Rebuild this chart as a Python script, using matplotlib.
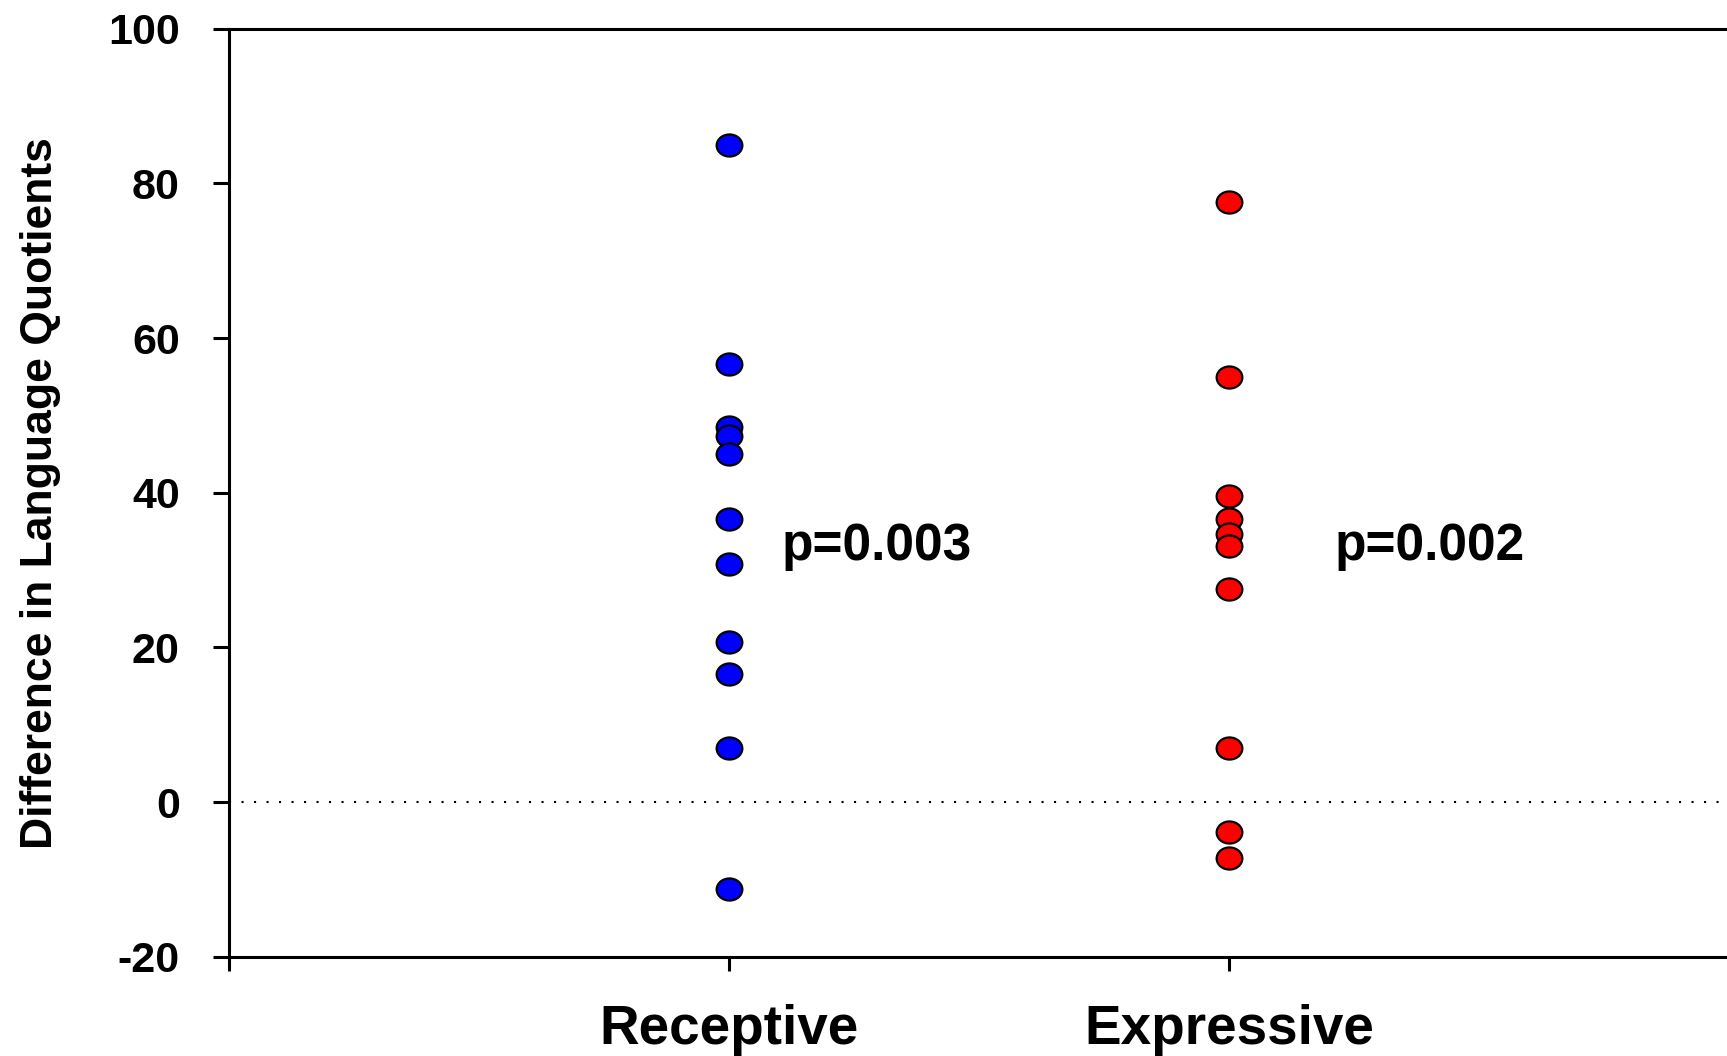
import matplotlib
matplotlib.use("Agg")
import matplotlib.pyplot as plt
import numpy as np
from matplotlib.path import Path
from matplotlib.transforms import Affine2D

categories = ["Receptive", "Expressive"]
receptive = [85.0, 56.6, 48.5, 47.3, 45.0, 36.6, 30.8, 20.7, 16.6, 7.0, -11.3]
expressive = [77.6, 55.0, 39.6, 36.6, 34.7, 33.1, 27.5, 7.0, -3.9, -7.3]
p_labels = ["p=0.003", "p=0.002"]
y_ticks = [-20, 0, 20, 40, 60, 80, 100]

plt.rcParams['font.family'] = ['Liberation Sans', 'DejaVu Sans']
plt.rcParams['font.weight'] = 'bold'

fig = plt.figure(figsize=(17.27, 10.56), dpi=100)
ax = fig.add_axes([229/1727, 1 - 956.7/1056, 1500/1727, (956.7 - 28.7)/1056])

ell = Path.unit_circle().transformed(Affine2D().scale(1.0, 0.86))

for i, (vals, col) in enumerate([(receptive, "#0000FF"), (expressive, "#FF0000")]):
    xs = np.full(len(vals), i + 1.0)
    ax.plot(xs, vals, linestyle='none', marker=ell, markersize=18.5,
            markerfacecolor=col, markeredgecolor='black', markeredgewidth=1.6,
            zorder=3)

ax.axhline(0, color='black', linewidth=1.5, linestyle=(0, (1, 5)), zorder=1)

p_x = [1.106, 2.212]
for px, lab in zip(p_x, p_labels):
    ax.text(px, 31.3, lab, fontsize=37, fontweight='bold', ha='left', va='baseline')

ax.set_xlim(0, 3)
ax.set_ylim(-20, 100)
ax.set_yticks(y_ticks)
ax.set_yticklabels([str(v) for v in y_ticks], fontsize=31, fontweight='bold')
ax.set_xticks([0, 1, 2])
ax.set_xticklabels([''] + categories, fontsize=39.5, fontweight='bold')

for s in ['left', 'bottom', 'top']:
    ax.spines[s].set_linewidth(2.2)
ax.spines['right'].set_visible(False)
ax.tick_params(axis='y', direction='out', length=11.5, width=2.2, pad=24)
ax.tick_params(axis='x', direction='out', length=10, width=2.2, pad=24)

ax.set_ylabel("Difference in Language Quotients", fontsize=32, fontweight='bold')
ax.yaxis.set_label_coords(-0.112, 0.5)

fig.savefig("out.png", dpi=100)
